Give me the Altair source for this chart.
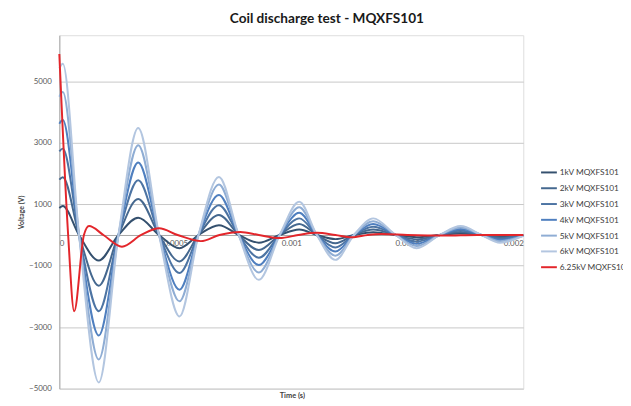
import altair as alt
import pandas as pd

# ---- data ----
series_names = ["1kV MQXFS101", "2kV MQXFS101", "3kV MQXFS101", "4kV MQXFS101",
                "5kV MQXFS101", "6kV MQXFS101", "6.25kV MQXFS101"]
series_colors = ["#34506e", "#45688f", "#4d74a3", "#4f7fbf", "#8fadd4", "#b3c6e0", "#e3262b"]

t_blue = [0, 0.000015, 0.000085, 0.00017, 0.000255, 0.00034, 0.00043, 0.000518, 0.0006,
          0.000688, 0.000773, 0.00086, 0.00095, 0.001034, 0.00111, 0.00119, 0.00127,
          0.001353, 0.00145, 0.00154, 0.00164, 0.00173, 0.00182, 0.0019, 0.002]
v_1kv = [880, 940, 0, -830, 0, 560, 0, -430, 0, 320, 0, -250, 0, 180, 0, -135, 0, 90, 0, -72, 0, 48, 0, -40, -5]
v_2kv = [1800, 1880, 0, -1650, 0, 1170, 0, -860, 0, 650, 0, -490, 0, 360, 0, -270, 0, 180, 0, -144, 0, 96, 0, -80, -10]
v_3kv = [2720, 2810, 0, -2480, 0, 1780, 0, -1240, 0, 970, 0, -740, 0, 540, 0, -405, 0, 270, 0, -216, 0, 144, 0, -120, -15]
v_4kv = [3620, 3740, 0, -3270, 0, 2360, 0, -1780, 0, 1300, 0, -980, 0, 720, 0, -540, 0, 360, 0, -288, 0, 192, 0, -165, -20]
v_5kv = [4500, 4650, 0, -4050, 0, 2920, 0, -2160, 0, 1640, 0, -1220, 0, 900, 0, -675, 0, 450, 0, -360, 0, 240, 0, -205, -25]
v_6kv = [5420, 5570, 0, -4800, 0, 3480, 0, -2650, 0, 1890, 0, -1460, 0, 1080, 0, -810, 0, 540, 0, -430, 0, 290, 0, -250, -30]

t_red = [0, 0.000038, 0.000064, 0.000106, 0.000128, 0.00019, 0.00027, 0.000353, 0.00043,
         0.00051, 0.00061, 0.00069, 0.00078, 0.00086, 0.00095, 0.00103, 0.00111, 0.00119,
         0.00126, 0.00133, 0.00139, 0.0015, 0.00166, 0.0018, 0.002]
v_625kv = [5890, 0, -2480, 0, 290, 0, -380, 0, 220, 0, -200, 0, 100, 0, -100, 0, 70, 0,
           -75, 0, 30, 0, -20, 0, 0]

y_ticks = [-5000, -3000, -1000, 1000, 3000, 5000]
x_ticks = [0, 0.0005, 0.001, 0.0015, 0.002]
y_domain = [-5000, 6500]
x_domain = [0, 0.002]

# ---- build table ----
rows = []
for name, vals in zip(series_names[:6], [v_1kv, v_2kv, v_3kv, v_4kv, v_5kv, v_6kv]):
    for i, (t, v) in enumerate(zip(t_blue, vals)):
        rows.append({"series": name, "t": t, "v": v, "i": i})
for i, (t, v) in enumerate(zip(t_red, v_625kv)):
    rows.append({"series": series_names[6], "t": t, "v": v, "i": i})
df = pd.DataFrame(rows)

W, H = 470, 358
zero_pos = H * y_domain[1] / (y_domain[1] - y_domain[0])
FONT = "Lato"

lines = alt.Chart(df).mark_line(interpolate="monotone").encode(
    x=alt.X("t:Q", scale=alt.Scale(domain=x_domain, nice=False),
            axis=alt.Axis(values=x_ticks, labelExpr="toString(datum.value)", ticks=False,
                          grid=False, domainColor="#a6a6a6", domainWidth=1,
                          offset=-(H - zero_pos), labelPadding=5, labelFontSize=8,
                          labelColor="#595959", labelFont=FONT, title=None)),
    y=alt.Y("v:Q", scale=alt.Scale(domain=y_domain, nice=False, zero=False),
            axis=alt.Axis(values=y_ticks, format="d", ticks=False, grid=True,
                          gridColor="#c8c8c8", gridWidth=1, domainColor="#a6a6a6",
                          labelPadding=8, labelFontSize=8, labelColor="#595959",
                          labelFont=FONT, title="Voltage (V)", titleFontSize=7,
                          titleFont=FONT, titleFontWeight="bold", titleColor="#404040",
                          titlePadding=4)),
    color=alt.Color("series:N", sort=series_names,
                    scale=alt.Scale(domain=series_names, range=series_colors),
                    legend=alt.Legend(orient="none", legendX=487, legendY=130, title=None,
                                      symbolType="stroke", symbolSize=256,
                                      symbolStrokeWidth=2.8, labelFontSize=8.4,
                                      labelFont=FONT, labelColor="#404040",
                                      rowPadding=2, labelOffset=2, padding=0,
                                      labelLimit=200)),
    strokeWidth=alt.StrokeWidth("series:N", sort=series_names,
                                scale=alt.Scale(domain=series_names,
                                                range=[2, 2, 2, 2, 2, 2, 2.6]),
                                legend=None),
    order=alt.Order("i:Q"),
)

xtitle = alt.Chart(pd.DataFrame({"txt": ["Time (s)"]})).mark_text(
    font=FONT, fontSize=7.5, fontWeight="bold", color="#404040", baseline="middle"
).encode(text="txt:N", x=alt.value(236), y=alt.value(365))

chart = alt.layer(lines, xtitle).properties(
    width=W, height=H,
    title=alt.TitleParams("Coil discharge test - MQXFS101", font=FONT, fontSize=13.8,
                          fontWeight="bold", color="#1a1a1a", anchor="middle", dx=36,
                          offset=10),
    padding={"left": 52, "top": 25, "right": 101, "bottom": 14},
    autosize=alt.AutoSizeParams(type="none"),
).configure_view(stroke=None).configure(background="white")

chart.save("out.html", embed_options={"renderer": "svg", "actions": False})
